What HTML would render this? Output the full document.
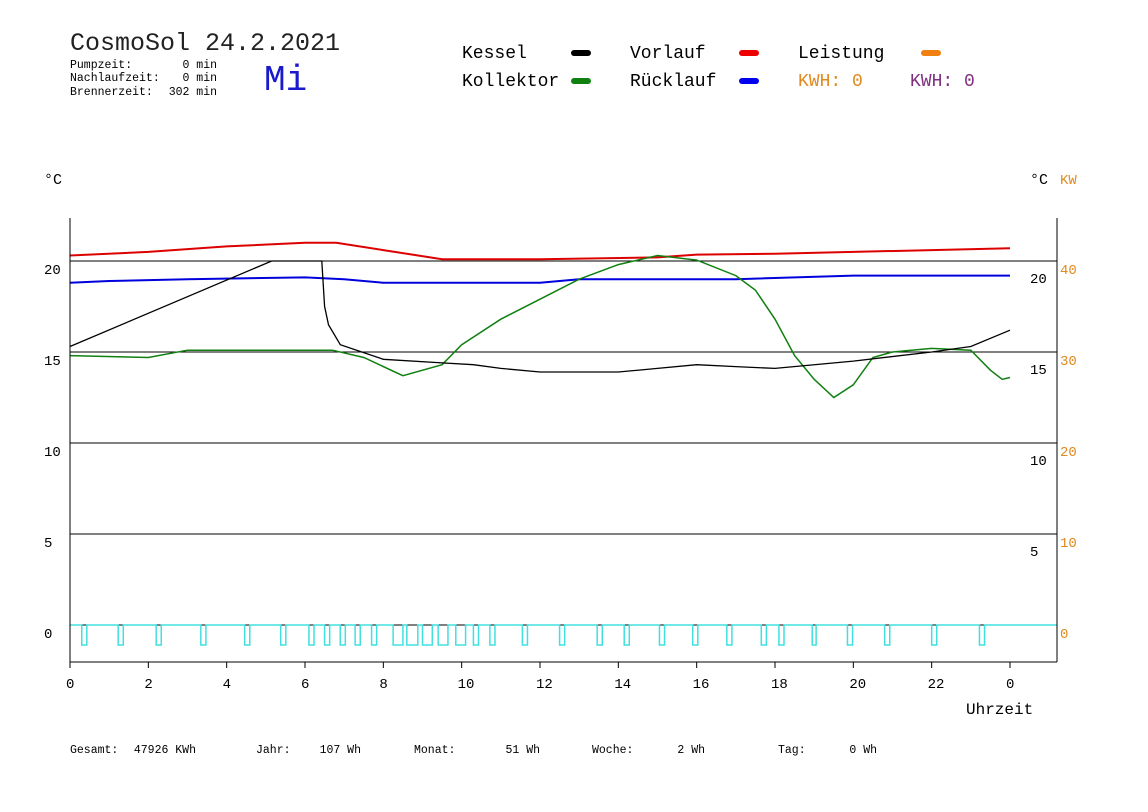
<!DOCTYPE html>
<html><head><meta charset="utf-8"><style>
html,body{margin:0;padding:0;background:#fff;width:1148px;height:812px;overflow:hidden}
svg{display:block}
text{font-family:"Liberation Mono",monospace}
</style></head><body>
<svg id="chart" width="1148" height="812" viewBox="0 0 1148 812">
<text x="70" y="50" font-size="25" fill="#222">CosmoSol 24.2.2021</text>
<g font-size="11.5" fill="#000">
<text x="70" y="68">Pumpzeit:</text><text x="217" y="68" text-anchor="end">0 min</text>
<text x="70" y="81">Nachlaufzeit:</text><text x="217" y="81" text-anchor="end">0 min</text>
<text x="70" y="95">Brennerzeit:</text><text x="217" y="95" text-anchor="end">302 min</text>
</g>
<text x="264" y="90" font-size="36" fill="#1a1acc">Mi</text>
<g font-size="18">
<text x="462" y="58" fill="#000">Kessel</text>
<line x1="574" y1="53" x2="588" y2="53" stroke="#000" stroke-width="6" stroke-linecap="round"/>
<text x="630" y="58" fill="#000">Vorlauf</text>
<line x1="742" y1="53" x2="756" y2="53" stroke="#e00" stroke-width="6" stroke-linecap="round"/>
<text x="798" y="58" fill="#000">Leistung</text>
<line x1="924" y1="53" x2="938" y2="53" stroke="#f08010" stroke-width="6" stroke-linecap="round"/>
<text x="462" y="86" fill="#000">Kollektor</text>
<line x1="574" y1="81" x2="588" y2="81" stroke="#108010" stroke-width="6" stroke-linecap="round"/>
<text x="630" y="86" fill="#000">Rücklauf</text>
<line x1="742" y1="81" x2="756" y2="81" stroke="#00e" stroke-width="6" stroke-linecap="round"/>
<text x="798" y="86" fill="#e08a20">KWH: 0</text>
<text x="910" y="86" fill="#803080">KWH: 0</text>
</g>
<text x="44" y="184" font-size="15">°C</text>
<text x="1030" y="184" font-size="15">°C</text>
<text x="1060" y="184" font-size="14" fill="#e08a20">KW</text>
<g id="grid"></g>
<g id="series"></g>
<line x1="70" y1="218" x2="70" y2="662" stroke="#000"/>
<line x1="1057" y1="218" x2="1057" y2="662" stroke="#000"/>
<line x1="70" y1="662" x2="1057" y2="662" stroke="#000"/>
<text x="966" y="714" font-size="16">Uhrzeit</text>
<g font-size="11.5">
<text x="70" y="753">Gesamt:</text><text x="196" y="753" text-anchor="end">47926 KWh</text>
<text x="256" y="753">Jahr:</text><text x="361" y="753" text-anchor="end">107 Wh</text>
<text x="414" y="753">Monat:</text><text x="540" y="753" text-anchor="end">51 Wh</text>
<text x="592" y="753">Woche:</text><text x="705" y="753" text-anchor="end">2 Wh</text>
<text x="778" y="753">Tag:</text><text x="877" y="753" text-anchor="end">0 Wh</text>
</g>
</svg>
<script>
const NS="http://www.w3.org/2000/svg";
const yTicks=[0,5,10,15,20];
const kwTicks=[0,10,20,30,40];
const xTickLabels=["0","2","4","6","8","10","12","14","16","18","20","22","0"];
const vorlaufT=[0,2,4,6,6.8,8,9.5,12,15,16,18,20,22,24];
const vorlaufV=[20.3,20.5,20.8,21.0,21.0,20.6,20.1,20.1,20.2,20.35,20.4,20.5,20.6,20.7];
const ruecklaufT=[0,1,3,6,7,8,12,13,17,20,24];
const ruecklaufV=[18.8,18.9,19.0,19.1,19.0,18.8,18.8,19.0,19.0,19.2,19.2];
const kesselT=[0,5.15,6.43,6.5,6.6,6.9,8,9.5,10.3,11,12,14,15,16,17,18,20,22,23,24];
const kesselV=[15.3,20.0,20.0,17.5,16.5,15.4,14.6,14.4,14.3,14.1,13.9,13.9,14.1,14.3,14.2,14.1,14.5,15.0,15.3,16.2];
const kollektorT=[0,2,3,6,6.7,7.5,8.5,9.5,10,11,12,13,14,15,16,17,17.5,18,18.5,19,19.5,20,20.5,21,22,23,23.5,23.8,24];
const kollektorV=[14.8,14.7,15.1,15.1,15.1,14.7,13.7,14.3,15.4,16.8,17.9,19.0,19.8,20.3,20.05,19.2,18.4,16.8,14.8,13.5,12.5,13.2,14.7,15.0,15.2,15.1,14.0,13.5,13.6];
const pumpStarts=[0.3,1.23,2.2,3.34,4.46,5.38,6.1,6.5,6.9,7.28,7.7,8.25,8.6,9.0,9.4,9.85,10.3,10.72,11.55,12.5,13.46,14.15,15.05,15.9,16.77,17.65,18.1,18.95,19.85,20.8,22.0,23.22];
const pumpDur=[0.13,0.13,0.13,0.13,0.13,0.13,0.13,0.13,0.13,0.13,0.13,0.25,0.28,0.25,0.25,0.25,0.13,0.13,0.13,0.13,0.13,0.13,0.13,0.13,0.13,0.13,0.13,0.1,0.13,0.13,0.13,0.13];
const X=h=>70+h*940/24;
const Y=t=>625-t*18.2;
const KY=k=>625-k*9.1;
const grid=document.getElementById('grid'),series=document.getElementById('series');
function el(tag,attrs,parent){const e=document.createElementNS(NS,tag);for(const k in attrs)e.setAttribute(k,attrs[k]);parent.appendChild(e);return e;}
yTicks.forEach(t=>{
 const l=el('line',{x1:70,x2:1057,y1:Y(t),y2:Y(t),stroke:'#000','stroke-width':1},grid);
 
 
 const tx=el('text',{x:44,y:Y(t)+13,'font-size':14},grid);tx.textContent=t;
 
 
 if(t>0){const tr=el('text',{x:1030,y:Y(t)+22,'font-size':14},grid);tr.textContent=t;
 
 }
});
kwTicks.forEach(k=>{
 const tx=el('text',{x:1060,y:KY(k)+13,'font-size':14,fill:'#e08a20'},grid);tx.textContent=k;
 
 
});
xTickLabels.forEach((s,i)=>{
 const h=i*2;
 el('line',{x1:X(h),x2:X(h),y1:662,y2:668,stroke:'#000'},grid);
 const tx=el('text',{x:X(h)-4,y:688,'font-size':14},grid);tx.textContent=s;
 
 
});
function stepPath(T,V){let d='';T.forEach((t,i)=>{d+=(i?'L':'M')+X(t).toFixed(1)+','+Y(V[i]).toFixed(1);});return d;}
function line(T,V,c,name,w){const p=el('path',{d:stepPath(T,V),fill:'none',stroke:c,'stroke-width':w},series);
 
 }
line(vorlaufT,vorlaufV,'#dd0000','vorlauf-line',2);
line(ruecklaufT,ruecklaufV,'#0000dd','ruecklauf-line',2);
line(kollektorT,kollektorV,'#108010','kollektor-line',1.5);
line(kesselT,kesselV,'#000','kessel-line',1.3);
let d='M70,625';
pumpStarts.forEach((s,i)=>{const a=X(s),b=X(s+pumpDur[i]);d+=`L${a},625L${a},645L${b},645L${b},625`;});
d+='L1057,625';
const pp=el('path',{d:d,fill:'none',stroke:'#40e0e0','stroke-width':1.5},series);


</script>
</body></html>
